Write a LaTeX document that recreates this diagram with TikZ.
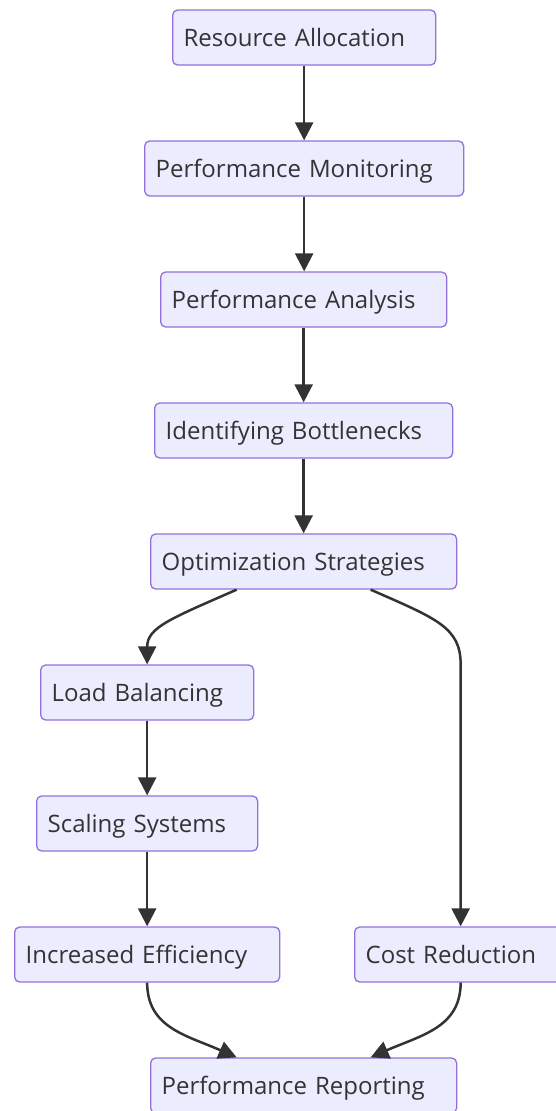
\documentclass[tikz,border=0pt]{standalone}
\usepackage{fontspec}
\setmainfont{Open Sans}
\usetikzlibrary{arrows.meta}
\definecolor{boxfill}{HTML}{ECECFF}
\definecolor{boxborder}{HTML}{9370DB}
\definecolor{txt}{HTML}{333333}
\definecolor{edge}{HTML}{333333}
\begin{document}
\begin{tikzpicture}[x=1pt,y=-1pt,
  box/.style={draw=boxborder, fill=boxfill, rounded corners=5pt, line width=1.3pt,
    minimum height=55pt, inner xsep=11pt, inner ysep=0pt, anchor=west, align=left,
    font=\fontsize{24}{28}\selectfont, text=txt, text height=19pt, text depth=0.6pt},
  arr/.style={draw=edge, line width=2.5pt, -{Triangle[length=18pt,width=18pt]}}
  ]
\useasboundingbox (0,0) rectangle (555,1111);
\node[box, text width=241pt] (ra) at (172,37.5) {Resource Allocation};
\node[box, text width=297pt] (pm) at (144,168.5) {Performance Monitoring};
\node[box, text width=264pt] (pa) at (160,299.5) {Performance Analysis};
\node[box, text width=276pt] (ib) at (154,430.5) {Identifying Bottlenecks};
\node[box, text width=284pt] (os) at (150,561.5) {Optimization Strategies};
\node[box, text width=191pt] (lb) at (40,692.5) {Load Balancing};
\node[box, text width=199pt] (ss) at (36,823.5) {Scaling Systems};
\node[box, text width=243pt] (ie) at (14,954.5) {Increased Efficiency};
\node[box, text width=190pt] (cr) at (354,954.5) {Cost Reduction};
\node[box, text width=284pt] (pr) at (150,1085.5) {Performance Reporting};

\draw[arr] (ra.south) -- (ra.south |- pm.north);
\draw[arr] (pm.south) -- (pm.south |- pa.north);
\draw[arr] (pa.south) -- (pa.south |- ib.north);
\draw[arr] (ib.south) -- (ib.south |- os.north);
\draw[arr] ([xshift=-67pt]os.south) .. controls +(-66,29) and +(0,-37) .. (lb.north);
\draw[arr] ([xshift=67pt]os.south) .. controls +(66,29) and +(0,-37) .. (cr.north |- lb.north) -- (cr.north);
\draw[arr] (lb.south) -- (lb.south |- ss.north);
\draw[arr] (ss.south) -- (ss.south |- ie.north);
\draw[arr] (ie.south) .. controls +(0,45) and +(-50,-22) .. ([xshift=-67pt]pr.north);
\draw[arr] (cr.south) .. controls +(0,45) and +(50,-22) .. ([xshift=67pt]pr.north);
\end{tikzpicture}
\end{document}
